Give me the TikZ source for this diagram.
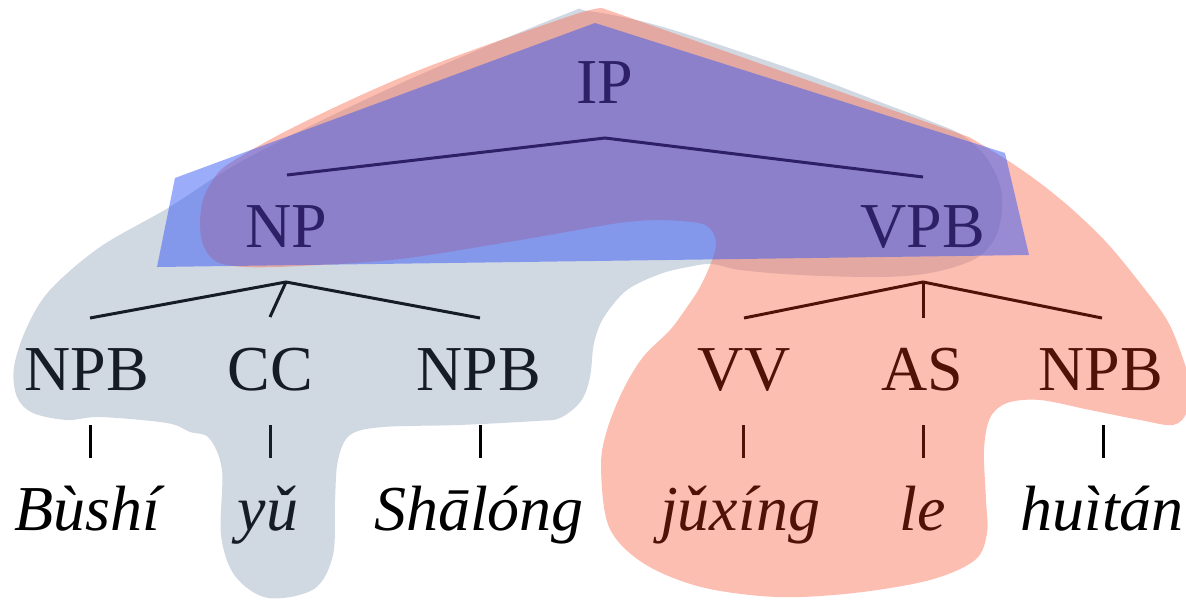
\documentclass[tikz,border=0pt]{standalone}
\usepackage{fontspec}
\setmainfont{Liberation Serif}
\usetikzlibrary{calc}
\definecolor{gblob}{RGB}{161,177,197}
\definecolor{rblob}{RGB}{251,111,84}
\definecolor{bblob}{RGB}{55,89,245}
\definecolor{inkG}{RGB}{22,28,38}
\definecolor{inkR}{RGB}{78,18,6}
\definecolor{inkB}{RGB}{46,32,102}
\newcommand{\catfont}{\fontsize{32}{38}\selectfont}
\newcommand{\wdfont}{\fontsize{32}{38}\selectfont\itshape}
\tikzset{
  cat/.style={font=\catfont, inner sep=0pt, anchor=base},
  wd/.style={font=\wdfont, inner sep=0pt, anchor=base},
  tree/.style={line width=1.5pt},
  gfill/.style={fill=gblob, fill opacity=0.5},
  rfill/.style={fill=rblob, fill opacity=0.45},
  bfill/.style={fill=bblob, fill opacity=0.5}
}
\begin{document}
\begin{tikzpicture}[x=0.5pt,y=-0.5pt]
\useasboundingbox (0,0) rectangle (1186,600);
\clip (0,0) rectangle (1186,600);
% gray blob
\fill[gfill] plot[smooth cycle, tension=0.55] coordinates {
 (588,11) (663,27) (800,72) (880,102) (930,121) (962,135) (986,157) (1000,185)
 (1002,212) (994,240) (973,260) (930,273) (880,277) (800,275) (740,270) (712,264)
 (688,267) (660,274) (627,290) (604,317) (594,343) (590,377) (581,401) (560,418)
 (536,421) (459,425) (383,427) (350,435) (338,460) (335,500) (333,555) (314,589)
 (268,598) (235,576) (221,535) (222,470) (209,438) (190,432) (167,423) (100,417)
 (67,420) (33,413) (17,397) (14,367) (27,327) (50,290) (100,247) (168,208)
 (230,168) (300,131) (417,76) (563,15)};
% red blob
\fill[rfill] (602,8) -- (969,137) -- plot[smooth, tension=0.55] coordinates {
 (969,137) (1007,160) (1040,183) (1073,210) (1107,243) (1140,283) (1167,320)
 (1181,353) (1190,385) (1187,412) (1173,425) (1140,420) (1090,410) (1040,400)
 (1007,403) (990,418) (984,450) (986,500) (987,533) (975,560) (930,580) (854,593)
 (777,597) (701,587) (643,563) (609,527) (601,467) (607,430) (623,390) (643,357)
 (670,330) (687,307) (700,287) (711,263) (716,245) (712,231) (699,223) (660,220)
 (627,222) (600,226) (520,240) (400,259) (300,266) (245,267) (217,262) (204,247)
 (200,225) (203,200) (213,180) (230,163) (300,124) (417,71) (567,17) (602,8)} -- cycle;
% blue polygon
\fill[bfill] (157,267) -- (175,178) -- (595,23) -- (1005,153) -- (1029,255) -- cycle;
% tree nodes
\node[cat, text=inkB] (IP) at (605,103) {IP};
\node[cat, text=inkB] (NP) at (286,247) {NP};
\node[cat, text=inkB] (VPB) at (923,247) {VPB};
\node[cat, text=inkG] (NPB1) at (87,390) {NPB};
\node[cat, text=inkG] (CC) at (270,390) {CC};
\node[cat, text=inkG] (NPB2) at (479,390) {NPB};
\node[cat, text=inkR] (VV) at (744,390) {VV};
\node[cat, text=inkR] (AS) at (922,390) {AS};
\node[cat, text=inkR] (NPB3) at (1101,390) {NPB};
\node[wd, text=black] (w1) at (87,530) {Bùshí};
\node[wd, text=inkG] (w2) at (268,530) {yǔ};
\node[wd, text=black] (w3) at (479,530) {Shālóng};
\node[wd, text=inkR] (w4) at (740,530) {jǔxíng};
\node[wd, text=inkR] (w5) at (923,530) {le};
\node[wd, text=black] (w6) at (1102,530) {huìtán};
% connectors
\draw[tree, inkB] ($(NP.base)+(1,-72)$) -- ($(IP.base)+(0,35)$) -- ($(VPB.base)+(0,-70)$);
\draw[tree, inkG] ($(NPB1.base)+(3,-72)$) -- ($(NP.base)+(0,35)$) -- ($(NPB2.base)+(1,-72)$);
\draw[tree, inkG] ($(NP.base)+(0,35)$) -- ($(CC.base)+(0,-73)$);
\draw[tree, inkR] ($(VV.base)+(0,-72)$) -- ($(VPB.base)+(0,35)$) -- ($(NPB3.base)+(1,-72)$);
\draw[tree, inkR] ($(VPB.base)+(0,35)$) -- ($(AS.base)+(1,-72)$);
\foreach \n/\dx/\c in {NPB1/3/black, CC/0/inkG, NPB2/1/black, VV/-1/inkR, AS/1/inkR, NPB3/2/black}{
  \draw[tree, \c] ($(\n.base)+(\dx,35)$) -- ($(\n.base)+(\dx,68)$);
}
\end{tikzpicture}
\end{document}
